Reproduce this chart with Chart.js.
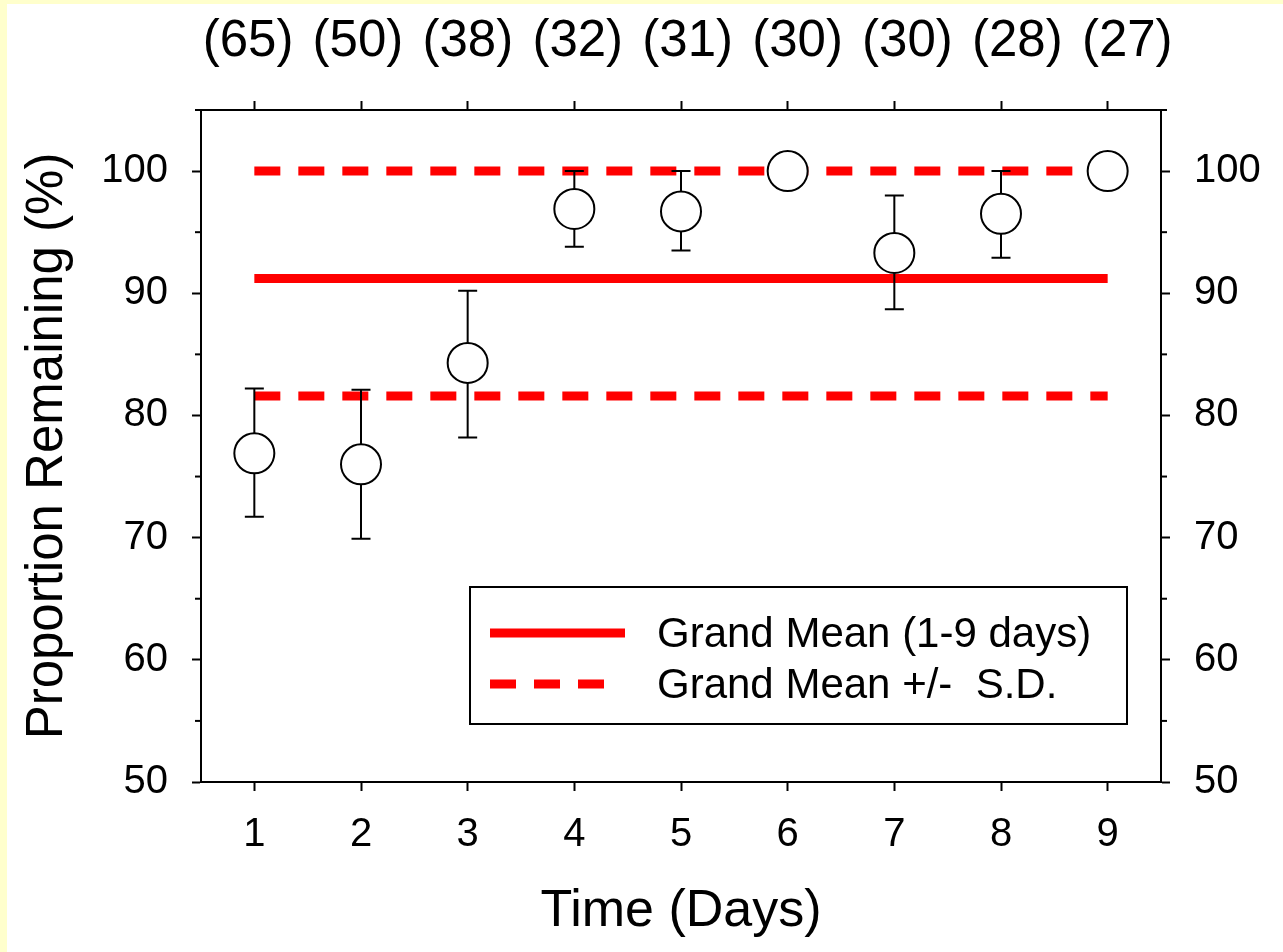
<!DOCTYPE html>
<html>
<head>
<meta charset="utf-8">
<script src="https://cdn.jsdelivr.net/npm/chart.js@4.4.1/dist/chart.umd.min.js"></script>
<style>
  html, body { margin: 0; padding: 0; background: #fff; }
  #wrap { width: 1276px; height: 948px; border-left: 7px solid #ffffcc; border-top: 4px solid #ffffcc; }
</style>
</head>
<body>
<div id="wrap"><canvas id="chart" width="1276" height="948"></canvas></div>
<script>
// values
const days = [1, 2, 3, 4, 5, 6, 7, 8, 9];
const sampleSizes = [65, 50, 38, 32, 31, 30, 30, 28, 27];
const meanRemaining = [76.9, 76.0, 84.3, 96.9, 96.7, 100, 93.3, 96.5, 100];
const errLow = [71.7, 69.9, 78.2, 93.8, 93.5, 100, 88.7, 92.9, 100];
const errHigh = [82.2, 82.1, 90.2, 100, 100, 100, 98.0, 100, 100];
const grandMean = 91.2;
const grandMeanPlusSD = 100;
const grandMeanMinusSD = 81.6;
const yLabelValues = [50, 60, 70, 80, 90, 100];

const FONT = "'Liberation Sans', Arial, sans-serif";
const firstDay = days[0], lastDay = days[days.length - 1];

// error bars, drawn just before the circles so the circles sit on top
const errorBars = {
    id: 'errorBars',
    beforeDatasetDraw(chart, args) {
        if (args.index !== 0) return;
        const { ctx } = chart;
        const x = chart.scales.x, y = chart.scales.y;
        ctx.save();
        ctx.strokeStyle = '#000';
        ctx.lineWidth = 2;
        days.forEach((d, i) => {
            if (errLow[i] === errHigh[i]) return;
            const px = x.getPixelForValue(d);
            const top = y.getPixelForValue(errHigh[i]);
            const bot = y.getPixelForValue(errLow[i]);
            ctx.beginPath();
            ctx.moveTo(px, top); ctx.lineTo(px, bot);
            ctx.moveTo(px - 9.5, top); ctx.lineTo(px + 9.5, top);
            ctx.moveTo(px - 9.5, bot); ctx.lineTo(px + 9.5, bot);
            ctx.stroke();
        });
        ctx.restore();
    }
};

// short minor ticks on both y axes + boxed legend inside the plot
const extras = {
    id: 'extras',
    afterDraw(chart) {
        const { ctx, chartArea: a } = chart;
        ctx.save();
        ctx.strokeStyle = '#000';
        ctx.lineWidth = 2;
        ['y', 'y2'].forEach(id => {
            const s = chart.scales[id];
            s.ticks.forEach(t => {
                if (t.value % 10 === 0) return;
                const py = s.getPixelForValue(t.value);
                ctx.beginPath();
                if (id === 'y') { ctx.moveTo(a.left, py); ctx.lineTo(a.left - 6, py); }
                else { ctx.moveTo(a.right, py); ctx.lineTo(a.right + 6, py); }
                ctx.stroke();
            });
        });

        // legend
        const L = a.left + 269, T = a.top + 477, W = 657, H = 137;
        ctx.fillStyle = '#fff';
        ctx.fillRect(L, T, W, H);
        ctx.strokeRect(L, T, W, H);
        const ds = chart.data.datasets;
        const rows = [ds[1], ds[2]];
        rows.forEach((d, i) => {
            const ry = T + 46 + i * 51;
            ctx.beginPath();
            ctx.strokeStyle = d.borderColor;
            ctx.lineWidth = d.borderWidth;
            ctx.setLineDash(d.borderDash || []);
            ctx.moveTo(L + 20, ry);
            ctx.lineTo(L + (d.borderDash ? 136 : 155), ry);
            ctx.stroke();
            ctx.setLineDash([]);
            ctx.fillStyle = '#000';
            ctx.font = '42px ' + FONT;
            ctx.textBaseline = 'middle';
            ctx.fillText(d.label, L + 187, ry + 2);
        });
        ctx.restore();
    }
};

const refLine = v => [{ x: firstDay, y: v }, { x: lastDay, y: v }];

new Chart(document.getElementById('chart'), {
    type: 'scatter',
    data: {
        datasets: [
            {
                label: 'Mean',
                data: days.map((d, i) => ({ x: d, y: meanRemaining[i] })),
                pointRadius: 20,
                pointBorderWidth: 2,
                pointBackgroundColor: '#fff',
                pointBorderColor: '#000',
                clip: false
            },
            {
                label: 'Grand Mean (1-9 days)',
                data: refLine(grandMean),
                showLine: true,
                borderColor: '#ff0000',
                borderWidth: 9,
                pointRadius: 0
            },
            {
                label: 'Grand Mean +/-  S.D.',
                data: refLine(grandMeanPlusSD),
                showLine: true,
                borderColor: '#ff0000',
                borderWidth: 9,
                borderDash: [26, 18],
                pointRadius: 0
            },
            {
                label: 'Grand Mean - S.D.',
                data: refLine(grandMeanMinusSD),
                showLine: true,
                borderColor: '#ff0000',
                borderWidth: 9,
                borderDash: [26, 18],
                pointRadius: 0
            }
        ]
    },
    options: {
        responsive: false,
        animation: false,
        layout: { padding: 0 },
        plugins: { legend: { display: false }, tooltip: { enabled: false } },
        scales: {
            x: {
                type: 'linear', position: 'bottom', min: 0.5, max: 9.5,
                afterBuildTicks: s => { s.ticks = days.map(v => ({ value: v })); },
                afterFit: s => { s.height = 170; },
                grid: { drawOnChartArea: false, tickLength: 9, tickWidth: 2, tickColor: '#000' },
                border: { color: '#000', width: 2 },
                ticks: { color: '#000', padding: 20, font: { family: FONT, size: 40 }, autoSkip: false, maxRotation: 0 },
                title: { display: true, text: 'Time (Days)', color: '#000', font: { family: FONT, size: 52 }, padding: { bottom: 9 } }
            },
            // top axis: tick marks only
            x2: {
                type: 'linear', position: 'top', min: 0.5, max: 9.5,
                afterBuildTicks: s => { s.ticks = days.map(v => ({ value: v })); },
                afterFit: s => { s.height = 10; },
                grid: { drawOnChartArea: false, tickLength: 9, tickWidth: 2, tickColor: '#000' },
                border: { color: '#000', width: 2 },
                ticks: { display: false }
            },
            // sample sizes printed above, spaced a little wider than the day ticks
            x3: {
                type: 'linear', position: 'top', min: 0.572, max: 9.307,
                afterBuildTicks: s => { s.ticks = days.map(v => ({ value: v })); },
                afterFit: s => { s.height = 96; },
                grid: { display: false, drawTicks: false },
                border: { display: false },
                ticks: {
                    color: '#000', padding: 27, font: { family: FONT, size: 51 }, autoSkip: false, maxRotation: 0,
                    callback: v => '(' + sampleSizes[days.indexOf(v)] + ')'
                }
            },
            y: {
                type: 'linear', position: 'left', min: 50, max: 105,
                ticks: {
                    stepSize: 5, color: '#000', padding: 24, font: { family: FONT, size: 40 }, autoSkip: false,
                    callback: v => yLabelValues.includes(v) ? v : ''
                },
                afterFit: s => { s.width = 194; },
                grid: { drawOnChartArea: false, tickLength: 9, tickWidth: 2,
                        tickColor: c => (c.tick && c.tick.value % 10 === 0) ? '#000' : 'rgba(0,0,0,0)' },
                border: { color: '#000', width: 2 },
                title: { display: true, text: 'Proportion Remaining (%)', color: '#000', font: { family: FONT, size: 51 }, padding: { top: 10 } }
            },
            y2: {
                type: 'linear', position: 'right', min: 50, max: 105,
                ticks: {
                    stepSize: 5, color: '#000', padding: 24, font: { family: FONT, size: 40 }, autoSkip: false,
                    callback: v => yLabelValues.includes(v) ? v : ''
                },
                afterFit: s => { s.width = 122; },
                grid: { drawOnChartArea: false, tickLength: 9, tickWidth: 2,
                        tickColor: c => (c.tick && c.tick.value % 10 === 0) ? '#000' : 'rgba(0,0,0,0)' },
                border: { color: '#000', width: 2 }
            }
        }
    },
    plugins: [errorBars, extras]
});
</script>
</body>
</html>
